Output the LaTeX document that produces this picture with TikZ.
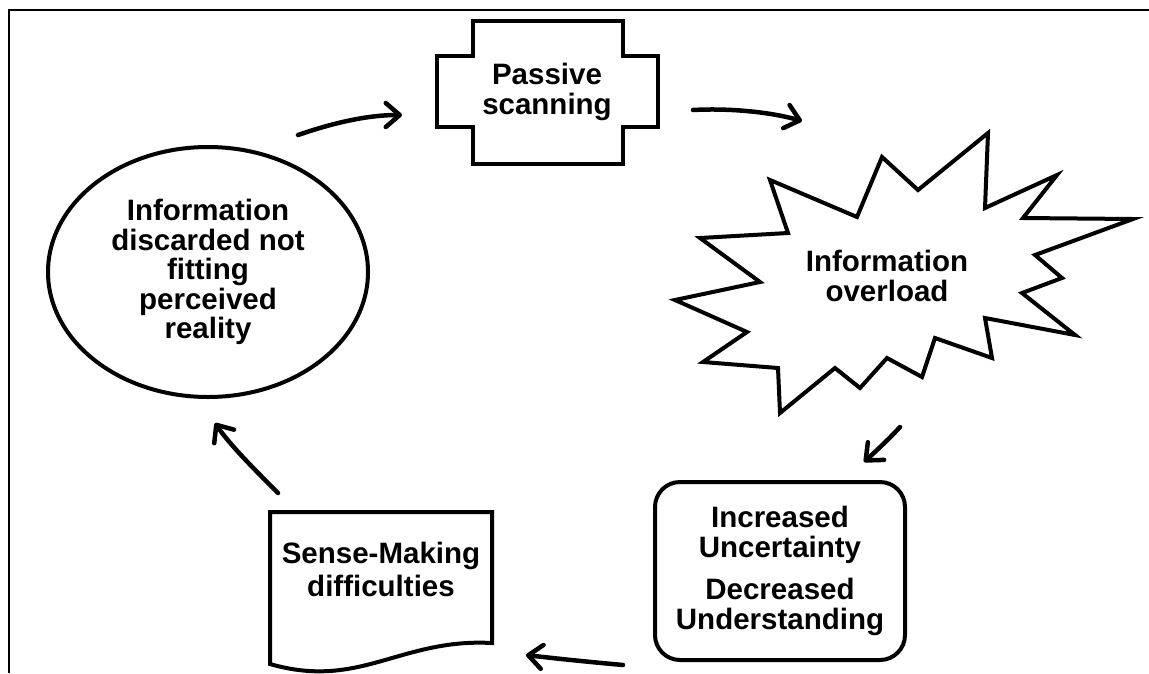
\documentclass[tikz,border=0pt]{standalone}
\usepackage{fontspec}
\setmainfont{Liberation Sans}
\usetikzlibrary{arrows.meta,shapes.geometric}
\begin{document}
\begin{tikzpicture}[x=1pt,y=-1pt,
  shapeline/.style={line width=4pt, line join=miter},
  flow/.style={line width=4.5pt, line cap=round,
    -{Straight Barb[length=14pt,width=24pt,line cap=round,line join=round]}},
  label/.style={font=\fontsize{29.5}{29.5}\selectfont\bfseries, align=center, inner sep=0pt},
]
\useasboundingbox (0,0) rectangle (1149,673);

% outer frame (top and left edges)
\draw[line width=1.8pt, line join=miter] (1149,10) -- (9,10) -- (9,673);

% cross-shaped box
\draw[shapeline] (473,21) -- (623,21) -- (623,56) -- (658,56) -- (658,127)
  -- (623,127) -- (623,164) -- (473,164) -- (473,127) -- (437,127)
  -- (437,56) -- (473,56) -- cycle;
\node[label] (scan) at (547,92) {Passive\\scanning};

% starburst
\draw[shapeline] (988,133) -- (985,208) -- (1057,175) -- (1023,218) -- (1133,219)
  -- (1035,255) -- (1062,278) -- (1022,293) -- (1075,335) -- (985,318)
  -- (992,358) -- (935,338) -- (922,377) -- (887,358) -- (860,388)
  -- (835,368) -- (780,413) -- (778,368) -- (703,362) -- (747,332)
  -- (675,300) -- (760,282) -- (700,238) -- (788,233) -- (770,180)
  -- (857,217) -- (882,157) -- (918,190) -- cycle;
\node[label] (overload) at (887,276) {Information\\overload};

% ellipse
\node[label, draw, shapeline, ellipse, minimum width=320pt, minimum height=250pt]
  (disc) at (208,272) {Information\\discarded not\\fitting\\perceived\\reality};

% rounded box
\node[label, draw, shapeline, rounded corners=25pt, minimum width=250pt, minimum height=178pt]
  (unc) at (780,571) {Increased\\Uncertainty\\[13pt]Decreased\\Understanding};

% document shape
\draw[shapeline] (270,512) -- (492,512) -- (492,643)
  .. controls (400,638) and (360,690) .. (270,664) -- cycle;
\node[label, font=\fontsize{29.5}{33}\selectfont\bfseries] (sense) at (381,569) {Sense-Making\\difficulties};

% cycle arrows
\coordinate (a1s) at (298,135); \coordinate (a1e) at (402,115);
\coordinate (a2s) at (693,110); \coordinate (a2e) at (802,121);
\coordinate (a3s) at (900,427); \coordinate (a3e) at (864,462);
\coordinate (a4s) at (623,665); \coordinate (a4e) at (526,655);
\coordinate (a5s) at (278,493); \coordinate (a5e) at (215,423);

\draw[flow] (a1s) .. controls (330,124) and (365,115) .. (a1e);
\draw[flow] (a2s) .. controls (730,108) and (770,112) .. (a2e);
\draw[flow] (a3s) .. controls (888,440) and (876,451) .. (a3e);
\draw[flow] (a4s) .. controls (590,662) and (560,659) .. (a4e);
\draw[flow] (a5s) .. controls (255,470) and (230,445) .. (a5e);
\end{tikzpicture}
\end{document}
